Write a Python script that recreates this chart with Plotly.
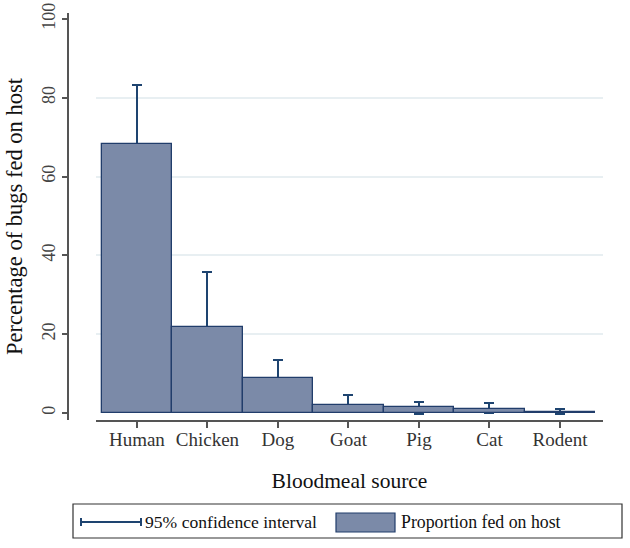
import plotly.graph_objects as go

categories = ["Human", "Chicken", "Dog", "Goat", "Pig", "Cat", "Rodent"]
proportion = [68.3, 21.8, 8.9, 2.0, 1.4, 1.0, 0.2]
ci_upper = [83.2, 35.8, 13.5, 4.5, 2.8, 2.6, 0.95]
ci_lower = [53.4, 7.8, 4.3, 0.3, -0.3, 0.1, -0.15]
y_ticks = [0, 20, 40, 60, 80, 100]
grid_vals = [20, 40, 60, 80]

FONT = "Liberation Serif, Times New Roman, serif"
BAR_FILL = "#7b8aa8"
BAR_LINE = "#213d6b"
ERR_COL = "#1e4470"
AXIS_COL = "#555555"

W, H = 630, 548
ML, MR, MT, MB = 68, 27, 13, 128
plot_w = W - ML - MR
plot_h = H - MT - MB
x_left_frac = (96 - ML) / plot_w

fig = go.Figure()

# CI trace (drawn first so bars sit on top of it)
fig.add_trace(go.Bar(
    x=categories, y=proportion, width=1,
    marker=dict(color="rgba(0,0,0,0)", line=dict(width=0)),
    error_y=dict(type="data", symmetric=False,
                 array=[u - p for u, p in zip(ci_upper, proportion)],
                 arrayminus=[p - l for p, l in zip(proportion, ci_lower)],
                 color=ERR_COL, thickness=2, width=5),
    showlegend=False, hoverinfo="skip",
))
fig.add_trace(go.Bar(
    x=categories, y=proportion, width=1,
    marker=dict(color=BAR_FILL, line=dict(color=BAR_LINE, width=1.3)),
    showlegend=False,
))

fig.update_layout(
    width=W, height=H,
    margin=dict(l=ML, r=MR, t=MT, b=MB, pad=0, autoexpand=False),
    paper_bgcolor="white", plot_bgcolor="white",
    barmode="overlay", bargap=0,
    font=dict(family=FONT, color="#111111"),
    xaxis=dict(
        domain=[x_left_frac, 1],
        range=[-0.58, 6.61],
        automargin=False,
        showline=True, linecolor=AXIS_COL, linewidth=2,
        ticks="outside", ticklen=6, tickwidth=1.5, tickcolor=AXIS_COL,
        ticklabelstandoff=-5,
        tickfont=dict(size=19, family=FONT, color="#333333"),
        title=dict(text="Bloodmeal source", font=dict(size=21.5, family=FONT, color="#111111"), standoff=24),
        showgrid=False, zeroline=False,
    ),
    yaxis=dict(
        anchor="free", position=0,
        range=[-1.8, 101.5],
        automargin=False,
        tickvals=y_ticks, ticktext=[str(v) for v in y_ticks],
        tickangle=-90,
        showline=True, linecolor=AXIS_COL, linewidth=2,
        ticks="outside", ticklen=5, tickwidth=1.5, tickcolor=AXIS_COL,
        tickfont=dict(size=18, family=FONT, color="#444444"),
        title=dict(text="Percentage of bugs fed on host", font=dict(size=22.5, family=FONT, color="#111111"), standoff=9),
        showgrid=False,
        minor=dict(tickvals=grid_vals, showgrid=True, gridcolor="#e8eff2", gridwidth=1.5, ticks=""),
        zeroline=False,
    ),
)

# custom legend box (paper coords derived from pixel layout)
def px_x(px):
    return (px - ML) / plot_w
def px_y(py):
    return 1 - (py - MT) / plot_h

shapes = [
    dict(type="rect", xref="paper", yref="paper",
         x0=px_x(73), x1=px_x(622), y0=px_y(538), y1=px_y(504),
         line=dict(color="#333333", width=1.2), fillcolor="white"),
    dict(type="line", xref="paper", yref="paper",
         x0=px_x(81), x1=px_x(141), y0=px_y(522), y1=px_y(522),
         line=dict(color=ERR_COL, width=2)),
    dict(type="line", xref="paper", yref="paper",
         x0=px_x(81), x1=px_x(81), y0=px_y(518), y1=px_y(526),
         line=dict(color=ERR_COL, width=2)),
    dict(type="line", xref="paper", yref="paper",
         x0=px_x(141), x1=px_x(141), y0=px_y(518), y1=px_y(526),
         line=dict(color=ERR_COL, width=2)),
    dict(type="rect", xref="paper", yref="paper",
         x0=px_x(336), x1=px_x(395), y0=px_y(532), y1=px_y(513),
         line=dict(color=BAR_LINE, width=1.2), fillcolor=BAR_FILL),
]
fig.update_layout(shapes=shapes)
fig.add_annotation(xref="paper", yref="paper", x=px_x(143), y=px_y(522),
                   text="95% confidence interval", showarrow=False,
                   xanchor="left", yanchor="middle",
                   font=dict(size=17.6, family=FONT, color="#111111"))
fig.add_annotation(xref="paper", yref="paper", x=px_x(399), y=px_y(522),
                   text="Proportion fed on host", showarrow=False,
                   xanchor="left", yanchor="middle",
                   font=dict(size=17.8, family=FONT, color="#111111"))

fig.write_html("out.html", config={"displayModeBar": False},
               post_script="document.body.style.margin='0';document.body.style.padding='0';")
